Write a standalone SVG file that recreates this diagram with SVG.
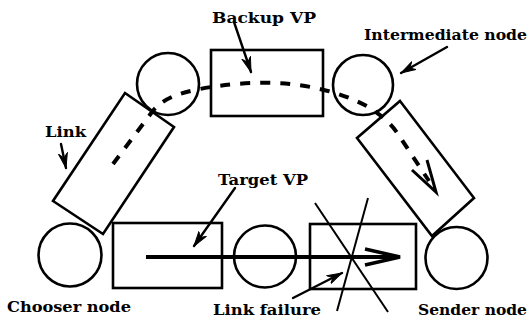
<svg xmlns="http://www.w3.org/2000/svg" width="529" height="327" viewBox="0 0 529 327">
<style>
.n{fill:none;stroke:#000;stroke-width:2.6}
.t{font-family:"DejaVu Serif","Liberation Serif",serif;font-weight:bold;font-size:15px;fill:#000}
.p{fill:none;stroke:#000;stroke-width:2.4;stroke-linecap:round;stroke-linejoin:round}
.x{fill:none;stroke:#000;stroke-width:2}
</style>
<defs>
<marker id="ah" viewBox="0 0 16 10" refX="15" refY="5" markerWidth="16" markerHeight="10" markerUnits="userSpaceOnUse" orient="auto">
<path d="M0,0.5 L15,5 L0,9.5 L5,5 Z" fill="#000" stroke="#000" stroke-width="1" stroke-linejoin="round"/>
</marker>
</defs>
<rect width="529" height="327" fill="#fff"/>
<g id="node-top-left"><circle class="n" cx="168" cy="84" r="31"/></g>
<g id="node-intermediate"><circle class="n" cx="363" cy="85" r="30"/></g>
<g id="node-chooser"><circle class="n" cx="70" cy="255" r="31.5"/></g>
<g id="node-middle"><circle class="n" cx="265" cy="256.5" r="31"/></g>
<g id="node-sender"><circle class="n" cx="456.5" cy="258" r="31"/></g>
<g id="link-left"><polygon class="n" points="125,93 174,127 103,234 53,201"/></g>
<g id="link-right"><polygon class="n" points="400,101 474,198 432,236 357,138"/></g>
<g id="backup-vp-link"><rect class="n" x="211" y="50" width="112" height="66"/></g>
<g id="target-vp-link"><rect class="n" x="113" y="223" width="109" height="65"/></g>
<g id="failed-link"><rect class="n" x="310" y="224" width="106" height="65"/>
<line class="x" x1="315" y1="203" x2="388" y2="312"/>
<line class="x" x1="368" y1="198" x2="337" y2="311"/></g>
<g id="connectors">
<path d="M113,164 L152,112 C162,99 178,93 200,89 C 225,84 260,81 290,84 C 320,87 350,96 370,108 C 384,117 392,125 398,134 L429,181" fill="none" stroke="#000" stroke-width="4" stroke-dasharray="10,10"/>
<path d="M412,170 L436,192 L427,160" fill="none" stroke="#000" stroke-width="3" stroke-linejoin="miter"/>
<line x1="146" y1="257" x2="398" y2="257" stroke="#000" stroke-width="4"/>
<path d="M365,249 L400,257 L365,265" fill="none" stroke="#000" stroke-width="3.5"/>
<line class="p" x1="234" y1="22" x2="251" y2="72" marker-end="url(#ah)"/>
<line class="p" x1="447" y1="47" x2="401" y2="73" marker-end="url(#ah)"/>
<line class="p" x1="61" y1="144" x2="66" y2="168" marker-end="url(#ah)"/>
<line class="p" x1="235" y1="188" x2="194" y2="246" marker-end="url(#ah)"/>
<line class="p" x1="293" y1="298" x2="342" y2="273" marker-end="url(#ah)"/>
</g>
<g id="labels">
<text class="t" x="212" y="23" textLength="104" lengthAdjust="spacingAndGlyphs">Backup VP</text>
<text class="t" x="364" y="40" textLength="163" lengthAdjust="spacingAndGlyphs">Intermediate node</text>
<text class="t" x="45" y="137" textLength="41" lengthAdjust="spacingAndGlyphs">Link</text>
<text class="t" x="218" y="185" textLength="90" lengthAdjust="spacingAndGlyphs">Target VP</text>
<text class="t" x="7" y="312" textLength="124" lengthAdjust="spacingAndGlyphs">Chooser node</text>
<text class="t" x="213" y="315" textLength="108" lengthAdjust="spacingAndGlyphs">Link failure</text>
<text class="t" x="418" y="315" textLength="109" lengthAdjust="spacingAndGlyphs">Sender node</text>
</g>
</svg>
